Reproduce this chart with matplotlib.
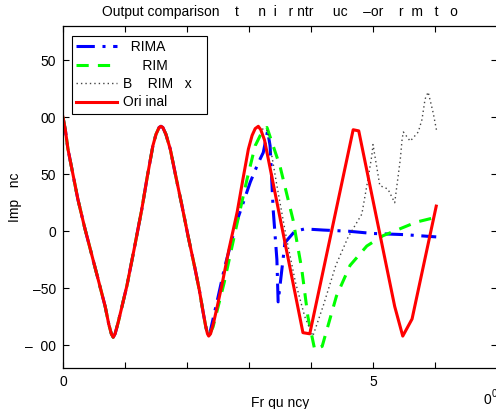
# output comparison plot, matlab style look

import matplotlib
matplotlib.use('Agg')
import matplotlib.pyplot as plt

plt.rcParams['font.family'] = ['Liberation Sans', 'DejaVu Sans']
plt.rcParams['font.size'] = 10

# low frequency part where all models match the original
shared_x = [0, 0.04, 0.08, 0.16, 0.24, 0.35, 0.47, 0.58, 0.68, 0.74, 0.78, 0.81,
            0.84, 0.89, 0.96, 1.03, 1.15, 1.27, 1.36, 1.45, 1.50, 1.55, 1.58,
            1.61, 1.66, 1.73, 1.82, 1.92, 2.02, 2.13, 2.20, 2.26, 2.30, 2.33, 2.35]
shared_y = [100, 88, 72, 50, 28, 3, -22, -45, -66, -82, -90, -93,
            -90, -80, -64, -48, -15, 19, 48, 75, 85, 91, 92,
            91, 85, 72, 48, 22, -5, -33, -52, -71, -83, -90, -92]

# original signal (rest)
orig_x = [2.38, 2.43, 2.50, 2.56, 2.68, 2.81, 2.90, 2.99, 3.05, 3.10, 3.15, 3.19,
          3.25, 3.87, 3.98, 4.68, 4.77, 5.35, 5.48, 5.63, 6.02]
orig_y = [-90, -80, -63, -48, -15, 17, 45, 72, 84, 90, 92, 89,
          80, -89, -90, 89, 88, -66, -92, -77, 22]

# ARIMA (rest)
arima_x = [2.37, 2.50, 2.61, 2.80, 3.02, 3.15, 3.23, 3.30, 3.34, 3.39, 3.45, 3.47,
           3.58, 3.74, 3.90, 4.20, 4.60, 5.00, 5.50, 6.02]
arima_y = [-89, -58, -31, 8, 43, 60, 69, 88, 75, 19, -25, -62,
           -10, 0, 2, 1, 0, -2, -3, -5]

# SARIMA (rest)
sarima_x = [2.42, 2.60, 2.80, 2.97, 3.10, 3.20, 3.29, 3.50, 3.71, 3.85, 3.95, 4.06,
            4.18, 4.41, 4.63, 4.90, 5.16, 5.43, 5.70, 6.00]
sarima_y = [-84, -45, 5, 46, 75, 86, 91, 57, 10, -33, -75, -104,
            -101, -57, -30, -13, -4, 2, 8, 12]

# BARIMAX (rest)
barimax_x = [2.38, 2.43, 2.50, 2.56, 2.68, 2.81, 2.90, 2.99, 3.05, 3.10, 3.15, 3.30,
             3.45, 3.60, 3.75, 3.90, 4.03, 4.20, 4.40, 4.60, 4.82, 4.92, 4.98, 5.00,
             5.11, 5.24, 5.35, 5.40, 5.44, 5.47, 5.49, 5.60, 5.73, 5.79, 5.84, 5.89,
             5.97, 6.03]
barimax_y = [-90, -80, -63, -48, -15, 17, 45, 72, 84, 90, 91, 88,
             40, -5, -45, -75, -92, -65, -30, -5, 15, 46, 66, 76,
             40, 37, 25, 46, 63, 81, 87, 79, 87, 98, 116, 122,
             104, 87]

x_ticks = [0, 1, 2, 3, 4, 5, 6, 7]
x_tick_labels = ['0', '', '', '', '', '5', '', '']
y_ticks = [-100, -50, 0, 50, 100, 150]
y_tick_labels = ['\u2013  00', '\u201350', '0', '50', '00', '50']

fig = plt.figure(figsize=(4.96, 4.09), dpi=100)
ax = fig.add_axes([63 / 496, 41 / 409, 434 / 496, 342 / 409])

ax.plot(shared_x + arima_x, shared_y + arima_y, color='#0000ff', linewidth=2.2,
        dashes=[6, 2.5, 1, 2.5], label='  RIMA')
ax.plot(shared_x + sarima_x, shared_y + sarima_y, color='#00ff00', linewidth=2.2,
        dashes=[4, 3], label='     RIM')
ax.plot(shared_x + barimax_x, shared_y + barimax_y, color='#444444', linewidth=1.0,
        dashes=[1, 2.2], label='B    RIM   x   ')
ax.plot(shared_x + orig_x, shared_y + orig_y, color='#ff0000', linewidth=2.2,
        label='Ori inal')

ax.set_xlim(0, 7)
ax.set_ylim(-120, 180)
ax.set_xticks(x_ticks)
ax.set_xticklabels(x_tick_labels)
ax.set_yticks(y_ticks)
ax.set_yticklabels(y_tick_labels)
ax.tick_params(direction='in', top=True, right=True, length=4, width=0.8,
               labelsize=10, pad=5)
for s in ax.spines.values():
    s.set_linewidth(0.9)

ax.set_title('Output comparison    t     n  i   r ntr     uc    \u2013or    r  m   t   o',
             fontsize=10, pad=7)
ax.set_xlabel('Fr qu ncy', labelpad=5)
ax.set_ylabel('Imp   nc')
ax.yaxis.set_label_coords(-0.094, 0.5)

leg = ax.legend(loc='upper left', bbox_to_anchor=(0.021, 0.971), borderaxespad=0,
                fancybox=False, framealpha=1, edgecolor='black',
                handlelength=2.9, handletextpad=0.45, labelspacing=0.32,
                borderpad=0.3)
leg.get_frame().set_linewidth(0.8)

# exponent label at bottom right
fig.text(483 / 496, 2 / 409, '0', fontsize=10, ha='left', va='bottom')
fig.text(492 / 496, 10 / 409, '0', fontsize=7, ha='left', va='bottom')

fig.savefig('out.png', dpi=100)
